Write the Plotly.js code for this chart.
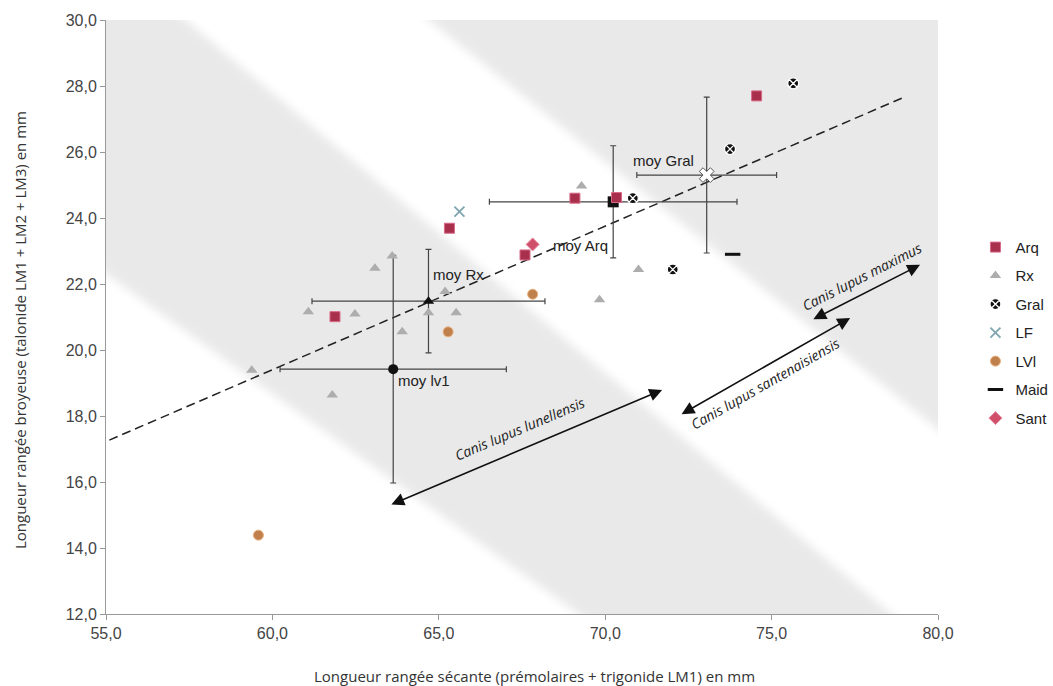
<!DOCTYPE html>
<html><head><meta charset="utf-8">
<script src="https://cdn.plot.ly/plotly-3.0.1.min.js"></script>
<style>html,body{margin:0;padding:0;background:#fff}#chart{width:1053px;height:686px}</style>
</head><body><div id="chart"></div>
<script>
// ---- data ----
const groupNames = ["Arq","Rx","Gral","LF","LVl","Maid","Sant"];
const arqX = [74.55,70.34,69.09,65.32,67.59,61.88];
const arqY = [27.70,24.62,24.60,23.69,22.88,21.01];
const rxX  = [69.29,71.00,69.83,63.60,63.08,65.19,61.08,62.48,64.69,65.52,63.90,59.38,61.80];
const rxY  = [24.97,22.44,21.52,22.85,22.48,21.77,21.16,21.09,21.13,21.13,20.55,19.39,18.64];
const gralX = [75.65,73.75,70.83,72.03];
const gralY = [28.08,26.09,24.60,22.44];
const lfX = [65.62];
const lfY = [24.19];
const lvlX = [67.82,65.28,59.58];
const lvlY = [21.69,20.55,14.39];
const maidX = [73.83];
const maidY = [22.90];
const santX = [67.82];
const santY = [23.20];

// means (moy) with spread
const meanNames = ["moy Gral","moy Arq","moy Rx","moy lv1"];
const meanX  = [73.05,70.24,64.69,63.63];
const meanY  = [25.30,24.49,21.48,19.42];
const meanEX = [2.10,3.72,3.50,3.40];
const meanEY = [2.36,1.70,1.57,3.45];

// regression (dashed) line ends
const regX = [55.1,79.0];
const regY = [17.27,27.67];

// size zones (background shading; drawn a little past the axes, clipped by the plot area)
const zoneAX = [54,56.22,79.78,70.58,54];
const zoneAY = [31,31,11,11,23.03];
const zoneBX = [63.47,81,81];
const zoneBY = [31,31,16.79];

// range arrows
const rangeNames = ["Canis lupus lunellensis","Canis lupus santenaisiensis","Canis lupus maximus"];
const rangeX0 = [63.53,72.25,76.21];
const rangeY0 = [15.30,18.03,20.91];
const rangeX1 = [71.71,77.36,79.46];
const rangeY1 = [18.79,20.97,22.58];

// ticks and titles
const xTickVals = [55,60,65,70,75,80];
const xTickText = ["55,0","60,0","65,0","70,0","75,0","80,0"];
const yTickVals = [12,14,16,18,20,22,24,26,28,30];
const yTickText = ["12,0","14,0","16,0","18,0","20,0","22,0","24,0","26,0","28,0","30,0"];
const xTitle = 'Longueur rangée sécante (prémolaires + trigonide LM1) en mm';
const yTitle = 'Longueur rangée broyeuse (talonide LM1 + LM2 + LM3) en mm';

// ---- traces ----
const traces = [];
const bandFill = '#e9e9e9';
traces.push({x:zoneAX,y:zoneAY,type:'scatter',mode:'lines',fill:'toself',fillcolor:bandFill,line:{width:0},hoverinfo:'skip',showlegend:false});
traces.push({x:zoneBX,y:zoneBY,type:'scatter',mode:'lines',fill:'toself',fillcolor:bandFill,line:{width:0},hoverinfo:'skip',showlegend:false});

traces.push({x:regX,y:regY,type:'scatter',mode:'lines',line:{color:'#222',width:1.5,dash:'9px,5px'},hoverinfo:'skip',showlegend:false});

// mean error bars
const meanSymbols = ['x','square','triangle-up','circle'];
const meanColors = ['#ffffff','#111111','#111111','#111111'];
const meanSizes = [13,11,10,10];
for (let i=0;i<meanX.length;i++){
  traces.push({
    x:[meanX[i]],y:[meanY[i]],type:'scatter',mode:'markers',name:meanNames[i],showlegend:false,
    marker:{symbol:meanSymbols[i],color:meanColors[i],size:meanSizes[i],line:{color:i===0?'#555':'#111',width:i===0?1:0}},
    error_x:{type:'constant',value:meanEX[i],color:'#444',thickness:1.2,width:3},
    error_y:{type:'constant',value:meanEY[i],color:'#444',thickness:1.2,width:3}
  });
}

const groups = [
  {x:arqX,y:arqY,marker:{symbol:'square',color:'#a8304c',size:10,line:{color:'#d86a88',width:1}}},
  {x:rxX,y:rxY,marker:{symbol:'triangle-up',color:'#adadad',size:10,line:{width:0}}},
  {x:gralX,y:gralY,marker:{symbol:'circle-x',color:'#111',size:11,line:{color:'#fff',width:1.3}}},
  {x:lfX,y:lfY,marker:{symbol:'x-thin-open',color:'#7fa6b0',size:10,line:{color:'#7fa6b0',width:1.8}}},
  {x:lvlX,y:lvlY,marker:{symbol:'circle',color:'#c0804c',size:10,line:{color:'#e8b080',width:1}}},
  {x:maidX,y:maidY,marker:{symbol:'line-ew-open',color:'#111',size:11,line:{color:'#111',width:3}}},
  {x:santX,y:santY,marker:{symbol:'diamond',color:'#d0506c',size:10,line:{color:'#e88aa0',width:1}}}
];
groups.forEach((g,i)=>{
  traces.push({x:g.x,y:g.y,type:'scatter',mode:'markers',name:groupNames[i],legendgroup:groupNames[i],marker:g.marker,hoverinfo:'x+y+name'});
});

// ---- annotations ----
const annotations = [];
const meanLabelPos = [
  {xanchor:'right',xshift:-11,yshift:15},
  {xanchor:'right',xshift:-3,yshift:-44},
  {xanchor:'left',xshift:3,yshift:27},
  {xanchor:'left',xshift:3,yshift:-11}
];
for (let i=0;i<meanX.length;i++){
  annotations.push({x:meanX[i],y:meanY[i],xref:'x',yref:'y',text:meanNames[i],showarrow:false,
    xanchor:meanLabelPos[i].xanchor,yanchor:'middle',xshift:meanLabelPos[i].xshift,yshift:meanLabelPos[i].yshift,
    font:{family:'Liberation Sans, Arial, sans-serif',size:15,color:'#222'}});
}
for (let i=0;i<rangeX0.length;i++){
  annotations.push({x:rangeX1[i],y:rangeY1[i],ax:rangeX0[i],ay:rangeY0[i],xref:'x',yref:'y',axref:'x',ayref:'y',
    text:'',showarrow:true,arrowside:'end+start',arrowhead:2,arrowsize:1.6,arrowwidth:1.6,arrowcolor:'#111',standoff:0,startstandoff:0});
}
const rangeAngles = [-23,-29.7,-27];
const rangeLabelOffset = [{xs:-6,ys:19},{xs:0,ys:-17},{xs:-4,ys:16}];
for (let i=0;i<rangeX0.length;i++){
  annotations.push({x:(rangeX0[i]+rangeX1[i])/2,y:(rangeY0[i]+rangeY1[i])/2,xref:'x',yref:'y',
    text:'<i>'+rangeNames[i]+'</i>',showarrow:false,textangle:rangeAngles[i],
    xshift:rangeLabelOffset[i].xs,yshift:rangeLabelOffset[i].ys,
    font:{family:'Open Sans, sans-serif',size:14,color:'#222'}});
}
// axis titles
annotations.push({xref:'paper',yref:'paper',x:0.5156,y:-0.1044,xanchor:'center',yanchor:'middle',showarrow:false,
  text:xTitle,font:{family:'Open Sans, sans-serif',size:15,color:'#333'}});
annotations.push({xref:'paper',yref:'paper',x:-0.1034,y:0.478,xanchor:'center',yanchor:'middle',showarrow:false,textangle:-90,
  text:yTitle,font:{family:'Open Sans, sans-serif',size:15,color:'#333'}});

const axisFont = {family:'Liberation Sans, Arial, sans-serif',size:16,color:'#444'};
const layout = {
  width:1053,height:686,
  margin:{l:106,r:115,t:20,b:72,autoexpand:false},
  paper_bgcolor:'#ffffff',plot_bgcolor:'#ffffff',
  showlegend:true,
  legend:{x:1.045,y:0.645,xanchor:'left',yanchor:'top',font:{family:'Liberation Sans, Arial, sans-serif',size:15,color:'#222'},
    traceorder:'grouped',tracegroupgap:6,bgcolor:'rgba(0,0,0,0)',itemwidth:30},
  xaxis:{range:[55,80],autorange:false,tickvals:xTickVals,ticktext:xTickText,showgrid:false,zeroline:false,
    showline:true,linecolor:'#999',linewidth:1,ticks:'outside',ticklen:5,tickcolor:'#999',tickfont:axisFont},
  yaxis:{range:[12,30],autorange:false,tickvals:yTickVals,ticktext:yTickText,showgrid:false,zeroline:false,
    showline:true,linecolor:'#999',linewidth:1,ticks:'outside',ticklen:5,tickcolor:'#999',tickfont:axisFont},
  annotations:annotations
};
Plotly.newPlot('chart',traces,layout,{staticPlot:true,displayModeBar:false}).then(gd=>{
  // soften the edges of the shaded zones, as in the reference
  const svg = gd.querySelector('svg.main-svg');
  const NS = 'http://www.w3.org/2000/svg';
  let defs = svg.querySelector('defs');
  if(!defs){defs=document.createElementNS(NS,'defs');svg.insertBefore(defs,svg.firstChild);}
  const f = document.createElementNS(NS,'filter');
  f.setAttribute('id','zoneblur');f.setAttribute('x','-10%');f.setAttribute('y','-10%');f.setAttribute('width','120%');f.setAttribute('height','120%');
  const b = document.createElementNS(NS,'feGaussianBlur');b.setAttribute('stdDeviation','5');
  f.appendChild(b);defs.appendChild(f);
  const fills = gd.querySelectorAll('.scatterlayer .trace');
  for(let k=0;k<2 && k<fills.length;k++){
    fills[k].querySelectorAll('path.js-fill').forEach(p=>p.setAttribute('filter','url(#zoneblur)'));
  }
});
</script>
</body></html>
